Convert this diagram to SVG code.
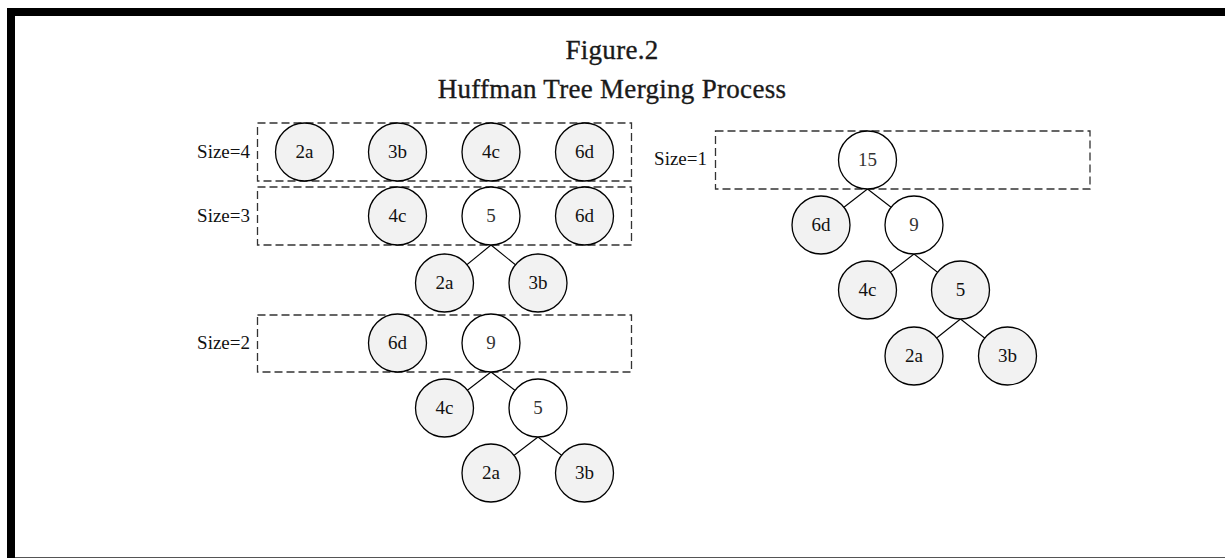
<svg xmlns="http://www.w3.org/2000/svg" width="1225" height="558" viewBox="0 0 1225 558">
<style>
.title{font-family:"Liberation Serif","Times New Roman",serif;font-size:27px;fill:#1a1a1a;stroke:#1a1a1a;stroke-width:0.35;text-anchor:middle;letter-spacing:0.3px}
.lbl{font-family:"Liberation Serif","Times New Roman",serif;font-size:19px;fill:#111;text-anchor:end}
.box{fill:none;stroke:#333;stroke-width:1.3;stroke-dasharray:8 4}
.leaf circle{fill:#f2f2f2;stroke:#000;stroke-width:1.3}
.inner circle{fill:#fff;stroke:#000;stroke-width:1.3}
.grayinner circle{fill:#f2f2f2;stroke:#000;stroke-width:1.3}
.node text{font-family:"Liberation Serif","Times New Roman",serif;font-size:19px;fill:#111;text-anchor:middle}
.inner text{fill:#333}
.edge{stroke:#000;stroke-width:1.1}
</style>
<rect x="0" y="0" width="1225" height="558" fill="#fff"/>
<g id="frame">
<rect x="7" y="8" width="1218" height="8" fill="#000"/>
<rect x="7" y="8" width="8" height="550" fill="#000"/>
<line x1="15" y1="557.5" x2="1225" y2="557.5" stroke="#555" stroke-width="1"/>
</g>
<g id="title">
<text class="title" x="612" y="59">Figure.2</text>
<text class="title" x="612" y="98">Huffman Tree Merging Process</text>
</g>
<g id="boxes">
<rect class="box" x="257.5" y="123" width="374" height="58"/>
<text class="lbl" x="250" y="158">Size=4</text>
<rect class="box" x="257.5" y="187" width="374" height="58"/>
<text class="lbl" x="250" y="222">Size=3</text>
<rect class="box" x="257.5" y="315" width="374" height="57"/>
<text class="lbl" x="250" y="349">Size=2</text>
<rect class="box" x="715.5" y="131" width="374.5" height="58"/>
<text class="lbl" x="707" y="165">Size=1</text>
</g>
<g id="connectors">
<line class="edge" x1="491" y1="245" x2="444.5" y2="283"/>
<line class="edge" x1="491" y1="245" x2="538" y2="283"/>
<line class="edge" x1="491" y1="372" x2="444.5" y2="408"/>
<line class="edge" x1="491" y1="372" x2="538" y2="408"/>
<line class="edge" x1="538" y1="437" x2="491" y2="473"/>
<line class="edge" x1="538" y1="437" x2="584.5" y2="473"/>
<line class="edge" x1="867.5" y1="189" x2="821" y2="225"/>
<line class="edge" x1="867.5" y1="189" x2="914" y2="225"/>
<line class="edge" x1="914" y1="254" x2="867.5" y2="290"/>
<line class="edge" x1="914" y1="254" x2="960.5" y2="290"/>
<line class="edge" x1="960.5" y1="319" x2="914" y2="356"/>
<line class="edge" x1="960.5" y1="319" x2="1007.5" y2="356"/>
</g>
<g id="n4-2a" class="node leaf"><circle cx="304.5" cy="152" r="29"/><text x="304.5" y="158">2a</text></g>
<g id="n4-3b" class="node leaf"><circle cx="397.5" cy="152" r="29"/><text x="397.5" y="158">3b</text></g>
<g id="n4-4c" class="node leaf"><circle cx="491" cy="152" r="29"/><text x="491" y="158">4c</text></g>
<g id="n4-6d" class="node leaf"><circle cx="584.5" cy="152" r="29"/><text x="584.5" y="158">6d</text></g>
<g id="n3-4c" class="node leaf"><circle cx="397.5" cy="216" r="29"/><text x="397.5" y="222">4c</text></g>
<g id="n3-5" class="node inner"><circle cx="491" cy="216" r="29"/><text x="491" y="222">5</text></g>
<g id="n3-6d" class="node leaf"><circle cx="584.5" cy="216" r="29"/><text x="584.5" y="222">6d</text></g>
<g id="n3-2a" class="node leaf"><circle cx="444.5" cy="283" r="29"/><text x="444.5" y="289">2a</text></g>
<g id="n3-3b" class="node leaf"><circle cx="538" cy="283" r="29"/><text x="538" y="289">3b</text></g>
<g id="n2-6d" class="node leaf"><circle cx="397.5" cy="343" r="29"/><text x="397.5" y="349">6d</text></g>
<g id="n2-9" class="node inner"><circle cx="491" cy="343" r="29"/><text x="491" y="349">9</text></g>
<g id="n2-4c" class="node leaf"><circle cx="444.5" cy="408" r="29"/><text x="444.5" y="414">4c</text></g>
<g id="n2-5" class="node inner"><circle cx="538" cy="408" r="29"/><text x="538" y="414">5</text></g>
<g id="n2-2a" class="node leaf"><circle cx="491" cy="473" r="29"/><text x="491" y="479">2a</text></g>
<g id="n2-3b" class="node leaf"><circle cx="584.5" cy="473" r="29"/><text x="584.5" y="479">3b</text></g>
<g id="n1-15" class="node inner"><circle cx="867.5" cy="160" r="29"/><text x="867.5" y="166">15</text></g>
<g id="n1-6d" class="node leaf"><circle cx="821" cy="225" r="29"/><text x="821" y="231">6d</text></g>
<g id="n1-9" class="node inner"><circle cx="914" cy="225" r="29"/><text x="914" y="231">9</text></g>
<g id="n1-4c" class="node leaf"><circle cx="867.5" cy="290" r="29"/><text x="867.5" y="296">4c</text></g>
<g id="n1-5" class="node grayinner"><circle cx="960.5" cy="290" r="29"/><text x="960.5" y="296">5</text></g>
<g id="n1-2a" class="node leaf"><circle cx="914" cy="356" r="29"/><text x="914" y="362">2a</text></g>
<g id="n1-3b" class="node leaf"><circle cx="1007.5" cy="356" r="29"/><text x="1007.5" y="362">3b</text></g>
</svg>
